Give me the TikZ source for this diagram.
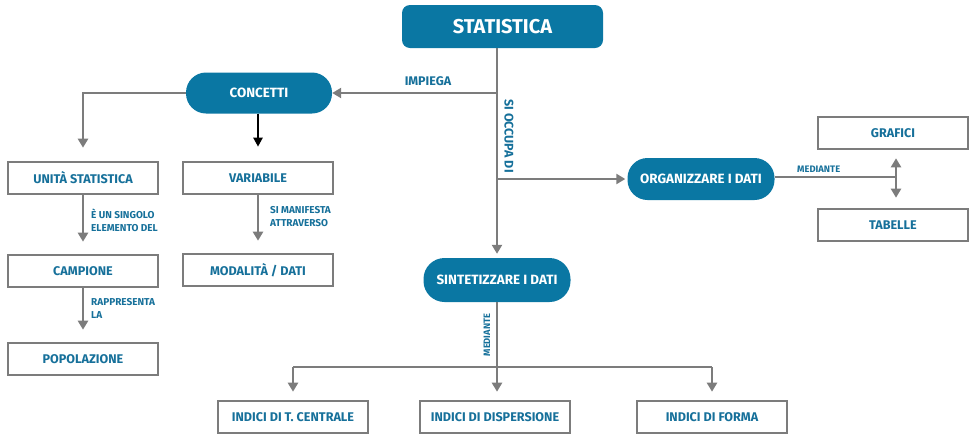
\documentclass[tikz,border=0pt]{standalone}
\usepackage{fontspec}
\setmainfont{Fira Sans}
\usetikzlibrary{arrows.meta,shapes.geometric,calc}
\definecolor{teal}{HTML}{0A77A3}
\definecolor{lab}{HTML}{16709A}
\definecolor{gline}{HTML}{7C7C7C}
\begin{document}
\begin{tikzpicture}[x=1pt,y=-1pt,
  titlebox/.style={fill=teal,rounded corners=8pt,text=white,font=\fontsize{20}{22}\selectfont\bfseries,minimum width=201pt,minimum height=43pt,inner sep=0pt},
  oval/.style={rectangle,rounded corners=20pt,fill=teal,text=white,font=\fontsize{13.4}{15}\selectfont\bfseries,minimum width=147pt,minimum height=42pt,inner sep=0pt},
  box/.style={draw=gline,line width=2.6pt,text=lab,font=\fontsize{12.6}{14}\selectfont\bfseries,minimum width=150pt,minimum height=32pt,inner sep=0pt},
  conn/.style={draw=gline,line width=2.6pt},
  arr/.style={conn,-{Triangle[width=10pt,length=9pt]}},
  small/.style={text=lab,font=\fontsize{10}{13}\selectfont\bfseries,inner sep=0pt,align=left},
]
\useasboundingbox (0,0) rectangle (971,437);
% nodes
\node[titlebox] (stat) at (502.5,26.5) {STATISTICA};
\node[oval,minimum width=146pt,minimum height=41pt] (conc) at (259,93) {CONCETTI};
\node[oval] (org) at (701,179) {ORGANIZZARE I DATI};
\node[oval,minimum height=44pt,rounded corners=21pt] (sint) at (497,280) {SINTETIZZARE I DATI};
\node[box] (unita) at (83,178) {UNITÀ STATISTICA};
\node[box] (camp) at (83,271) {CAMPIONE};
\node[box] (pop) at (83,359) {POPOLAZIONE};
\node[box] (var) at (258,178) {VARIABILE};
\node[box] (mod) at (258,270) {MODALITÀ / DATI};
\node[box] (graf) at (893,133) {GRAFICI};
\node[box] (tab) at (893,225) {TABELLE};
\node[box] (tc) at (293,417) {INDICI DI T. CENTRALE};
\node[box] (disp) at (495,417) {INDICI DI DISPERSIONE};
\node[box] (forma) at (712,417) {INDICI DI FORMA};
% junctions
\coordinate (j1) at (497,93);
\coordinate (j2) at (497,179);
\coordinate (j3) at (896,177);
\coordinate (j4) at (497,367);
\coordinate (jl) at (293,367);
\coordinate (jr) at (712,367);
% connectors
\draw[arr,shorten >=4pt] (stat.south -| sint.north) -- (sint.north);
\draw[arr] (j1) -- (conc.east);
\draw[arr,shorten >=2pt] (j2) -- (org.west);
\draw[arr,shorten >=13pt] (conc.west) -| (unita.north);
\draw[line width=2.2pt,-{Triangle[width=9pt,length=9pt]},shorten >=14pt] (conc.south -| var.north) -- (var.north);
\draw[arr,shorten >=12pt] (unita.south) -- (camp.north);
\draw[arr,shorten >=12pt] (camp.south) -- (pop.north);
\draw[arr,shorten >=12pt] (var.south) -- (mod.north);
\draw[conn] (org.east |- j3) -- (j3);
\draw[conn,{Triangle[width=10pt,length=9pt]}-{Triangle[width=10pt,length=9pt]}] ($(graf.south -| j3)+(0,8)$) -- ($(tab.north -| j3)+(0,-10)$);
\draw[conn] (sint.south) -- (j4);
\draw[conn] (jl) -- (jr);
\draw[arr,shorten >=8pt] (jl) -- (tc.north);
\draw[arr,shorten >=8pt] (j4) -- (disp.north -| j4);
\draw[arr,shorten >=8pt] (jr) -- (forma.north);
% labels
\node[small,font=\fontsize{12.5}{14}\selectfont\bfseries] (l1) at (428,81) {IMPIEGA};
\node[small,font=\fontsize{12.5}{14}\selectfont\bfseries,rotate=-90] (l2) at (509,136) {SI OCCUPA DI};
\node[small,anchor=west] (l3) at (91,220) {È UN SINGOLO\\ELEMENTO DEL};
\node[small,anchor=west] (l4) at (91,308) {RAPPRESENTA\\LA};
\node[small,anchor=west] (l5) at (270,217) {SI MANIFESTA\\ATTRAVERSO};
\node[small,font=\fontsize{9.4}{11}\selectfont\bfseries,anchor=west] (l6) at (797,169) {MEDIANTE};
\node[small,font=\fontsize{9.3}{11}\selectfont\bfseries,rotate=90] (l7) at (487,335) {MEDIANTE};
\end{tikzpicture}
\end{document}
